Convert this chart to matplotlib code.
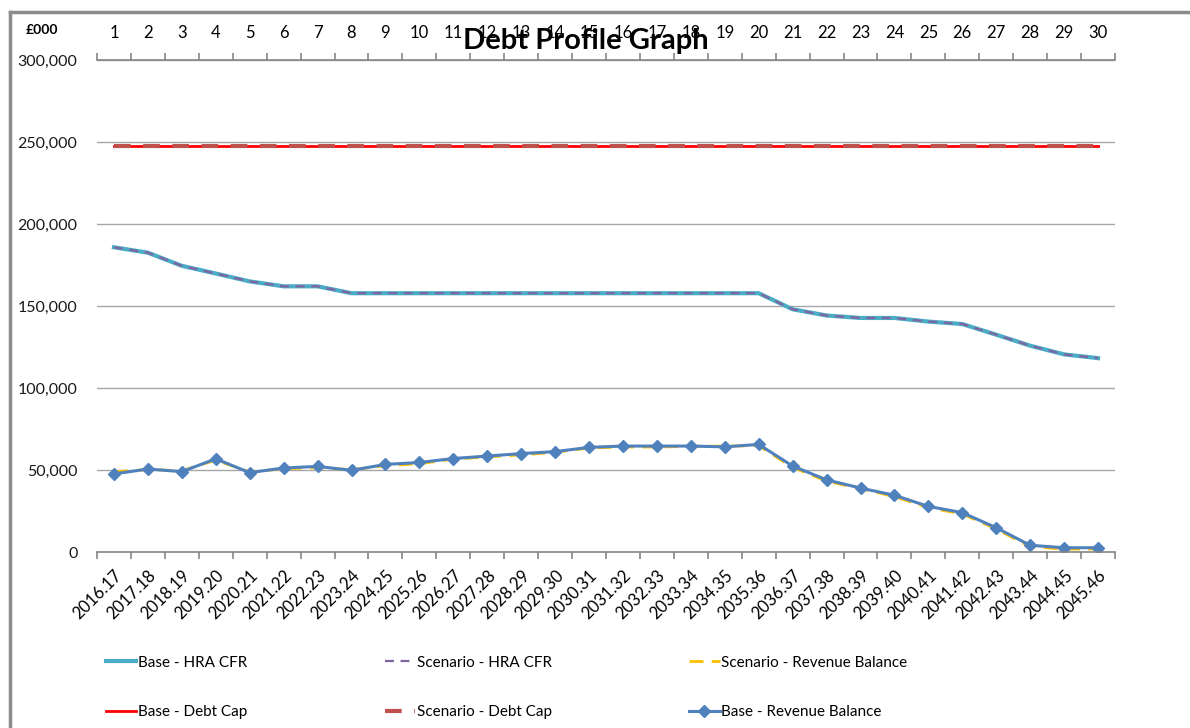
import numpy as np
import matplotlib.pyplot as plt
from matplotlib.lines import Line2D
from matplotlib.ticker import FuncFormatter, FixedLocator

plt.rcParams['font.family'] = ['Lato', 'DejaVu Sans']

years = ['2016.17', '2017.18', '2018.19', '2019.20', '2020.21', '2021.22', '2022.23',
         '2023.24', '2024.25', '2025.26', '2026.27', '2027.28', '2028.29', '2029.30',
         '2030.31', '2031.32', '2032.33', '2033.34', '2034.35', '2035.36', '2036.37',
         '2037.38', '2038.39', '2039.40', '2040.41', '2041.42', '2042.43', '2043.44',
         '2044.45', '2045.46']
year_no = [str(i) for i in range(1, 31)]

base_hra_cfr = [185.8, 182.5, 174.5, 169.8, 165.0, 162.0, 162.0, 157.8, 157.8, 157.8,
                157.8, 157.8, 157.8, 157.8, 157.8, 157.8, 157.8, 157.8, 157.8, 157.8,
                148.0, 144.2, 142.7, 142.7, 140.5, 139.0, 132.5, 125.8, 120.5, 118.2]
scen_hra_cfr = base_hra_cfr
base_debt_cap = [247.5] * 30
scen_debt_cap = [247.5] * 30
base_rev_bal = [47.6, 50.6, 49.0, 56.8, 48.4, 51.2, 52.2, 49.8, 53.4, 54.6,
                57.0, 58.5, 60.0, 61.2, 63.8, 64.6, 64.6, 64.6, 64.1, 65.6,
                52.4, 44.0, 39.0, 34.6, 27.8, 24.0, 14.8, 4.1, 2.6, 2.6]
scen_rev_bal = [49.0, 50.2, 49.6, 56.0, 48.8, 50.8, 51.4, 50.2, 52.6, 53.8,
                56.6, 58.0, 59.2, 60.8, 63.4, 64.0, 64.0, 64.4, 64.6, 64.8,
                51.6, 43.2, 38.6, 33.8, 27.0, 23.2, 14.0, 3.2, 1.8, 1.8]

x = np.arange(len(years))
k = 1000

fig = plt.figure(figsize=(11.9, 7.28), dpi=100)
ax = fig.add_axes([97 / 1190, 1 - 552 / 728, (1115 - 97) / 1190, (552 - 60) / 728])

h1, = ax.plot(x, np.array(base_hra_cfr) * k, color='#4BACC6', lw=3.0, label='Base - HRA CFR')
h2, = ax.plot(x, np.array(scen_hra_cfr) * k, color='#8064A2', lw=1.6, ls=(0, (4, 3)),
              label='Scenario - HRA CFR')
h4, = ax.plot(x, np.array(base_debt_cap) * k, color='#FF0000', lw=2.0, label='Base - Debt Cap')
h5, = ax.plot(x, np.array(scen_debt_cap) * k, color='#C0504D', lw=3.0, ls=(0, (4, 3)),
              label='Scenario - Debt Cap')
h3, = ax.plot(x, np.array(scen_rev_bal) * k, color='#FFC000', lw=2.0, ls=(0, (5, 3)),
              label='Scenario - Revenue Balance')
h6, = ax.plot(x, np.array(base_rev_bal) * k, color='#4F81BD', lw=2.2, marker='D', ms=6,
              label='Base - Revenue Balance')

ax.set_xlim(-0.5, len(years) - 0.5)
ax.set_ylim(0, 300000)
ax.set_yticks(np.arange(0, 300001, 50000))
ax.yaxis.set_major_formatter(FuncFormatter(lambda v, p: f'{int(v):,}'))
ax.tick_params(axis='y', length=0, pad=14, labelsize=11.5, labelcolor='#1a1a1a')
ax.grid(axis='y', color='#A6A6A6', lw=1)
ax.set_axisbelow(True)

for s in ['left', 'right']:
    ax.spines[s].set_visible(False)
for s in ['top', 'bottom']:
    ax.spines[s].set_color('#868686')
    ax.spines[s].set_linewidth(1.2)

ax.set_xticks(x)
ax.set_xticklabels(years, rotation=45, ha='right', rotation_mode='anchor', fontsize=12)
ax.xaxis.set_minor_locator(FixedLocator(np.arange(-0.5, len(years), 1)))
ax.tick_params(axis='x', which='major', length=0, pad=11)
ax.tick_params(axis='x', which='minor', length=5, color='#868686', width=1.2)

top = ax.secondary_xaxis('top')
top.set_xticks(x)
top.set_xticklabels(year_no, fontsize=12)
top.xaxis.set_minor_locator(FixedLocator(np.arange(-0.5, len(years), 1)))
top.tick_params(axis='x', which='major', length=0, pad=14)
top.tick_params(axis='x', which='minor', length=5, color='#868686', width=1.2)
top.spines['top'].set_visible(False)

# title sits over the top axis numbers, as in the original
fig.text(586 / 1190, 1 - 41 / 728, 'Debt Profile Graph', ha='center', va='center',
         fontsize=21, fontweight='bold')
fig.text(42 / 1190, 1 - 30 / 728, '£000', ha='center', va='center', fontsize=10,
         fontweight='bold')

order = [h1, h4, h2, h5, h3, h6]
fig.legend(order, [h.get_label() for h in order],
           ncol=3, loc='upper left', bbox_to_anchor=(92 / 1190, 1 - 642 / 728),
           frameon=False, fontsize=11, handlelength=2.0, handletextpad=0.1,
           columnspacing=9, labelspacing=2.3)

# outer frame (left and top edges)
fig.add_artist(Line2D([10 / 1190, 10 / 1190], [0, 1 - 12 / 728], color='#8C8C8C', lw=2.5,
                      transform=fig.transFigure))
fig.add_artist(Line2D([10 / 1190, 1], [1 - 12 / 728, 1 - 12 / 728], color='#8C8C8C', lw=2.5,
                      transform=fig.transFigure))

fig.savefig('out.png', dpi=100)
